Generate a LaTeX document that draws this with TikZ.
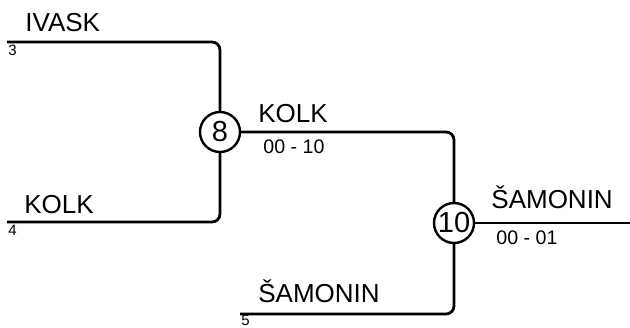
\documentclass[tikz,border=0pt]{standalone}
\usepackage{fontspec}
\setmainfont{Liberation Sans}
\begin{document}
\begin{tikzpicture}[x=0.5pt,y=-0.5pt,line width=1.4pt,
	match/.style={circle,draw,line width=1.2pt,minimum size=20pt,inner sep=0pt,font=\fontsize{14.5}{14.5}\selectfont},
	player/.style={anchor=base west,inner sep=0pt,font=\fontsize{13}{15}\selectfont},
	score/.style={anchor=base west,inner sep=0pt,font=\fontsize{9.8}{11}\selectfont},
	seed/.style={anchor=base west,inner sep=0pt,font=\fontsize{7.5}{9}\selectfont}]
	\useasboundingbox (0,0) rectangle (630,327);

	\node[match] (M8) at (220,132) {8};
	\node[match] (M10) at (454,223) {10};
	\coordinate (S3) at (7,42);
	\coordinate (S4) at (7,222);
	\coordinate (S5) at (240,314);
	\coordinate (W) at (630,223);

	\node[player] (P3) at (24,31) {IVASK};
	\node[seed] (N3) at (7,55) {3};
	\node[player] (P4) at (23,213) {KOLK};
	\node[seed] (N4) at (7,235) {4};
	\node[player] (P8) at (257,122) {KOLK};
	\node[score] (R8) at (262,153) {00 - 10};
	\node[player] (P10) at (490,208) {ŠAMONIN};
	\node[score] (R10) at (495,244) {00 - 01};
	\node[player] (P5) at (257,302) {ŠAMONIN};
	\node[seed] (N5) at (240,325.5) {5};

	\draw[rounded corners=4pt] (S3) -| (M8);
	\draw[rounded corners=4pt] (S4) -| (M8);
	\draw[rounded corners=4pt] (M8) -| (M10);
	\draw[rounded corners=4pt] (S5) -| (M10);
	\draw (M10) -- (W);
\end{tikzpicture}
\end{document}
